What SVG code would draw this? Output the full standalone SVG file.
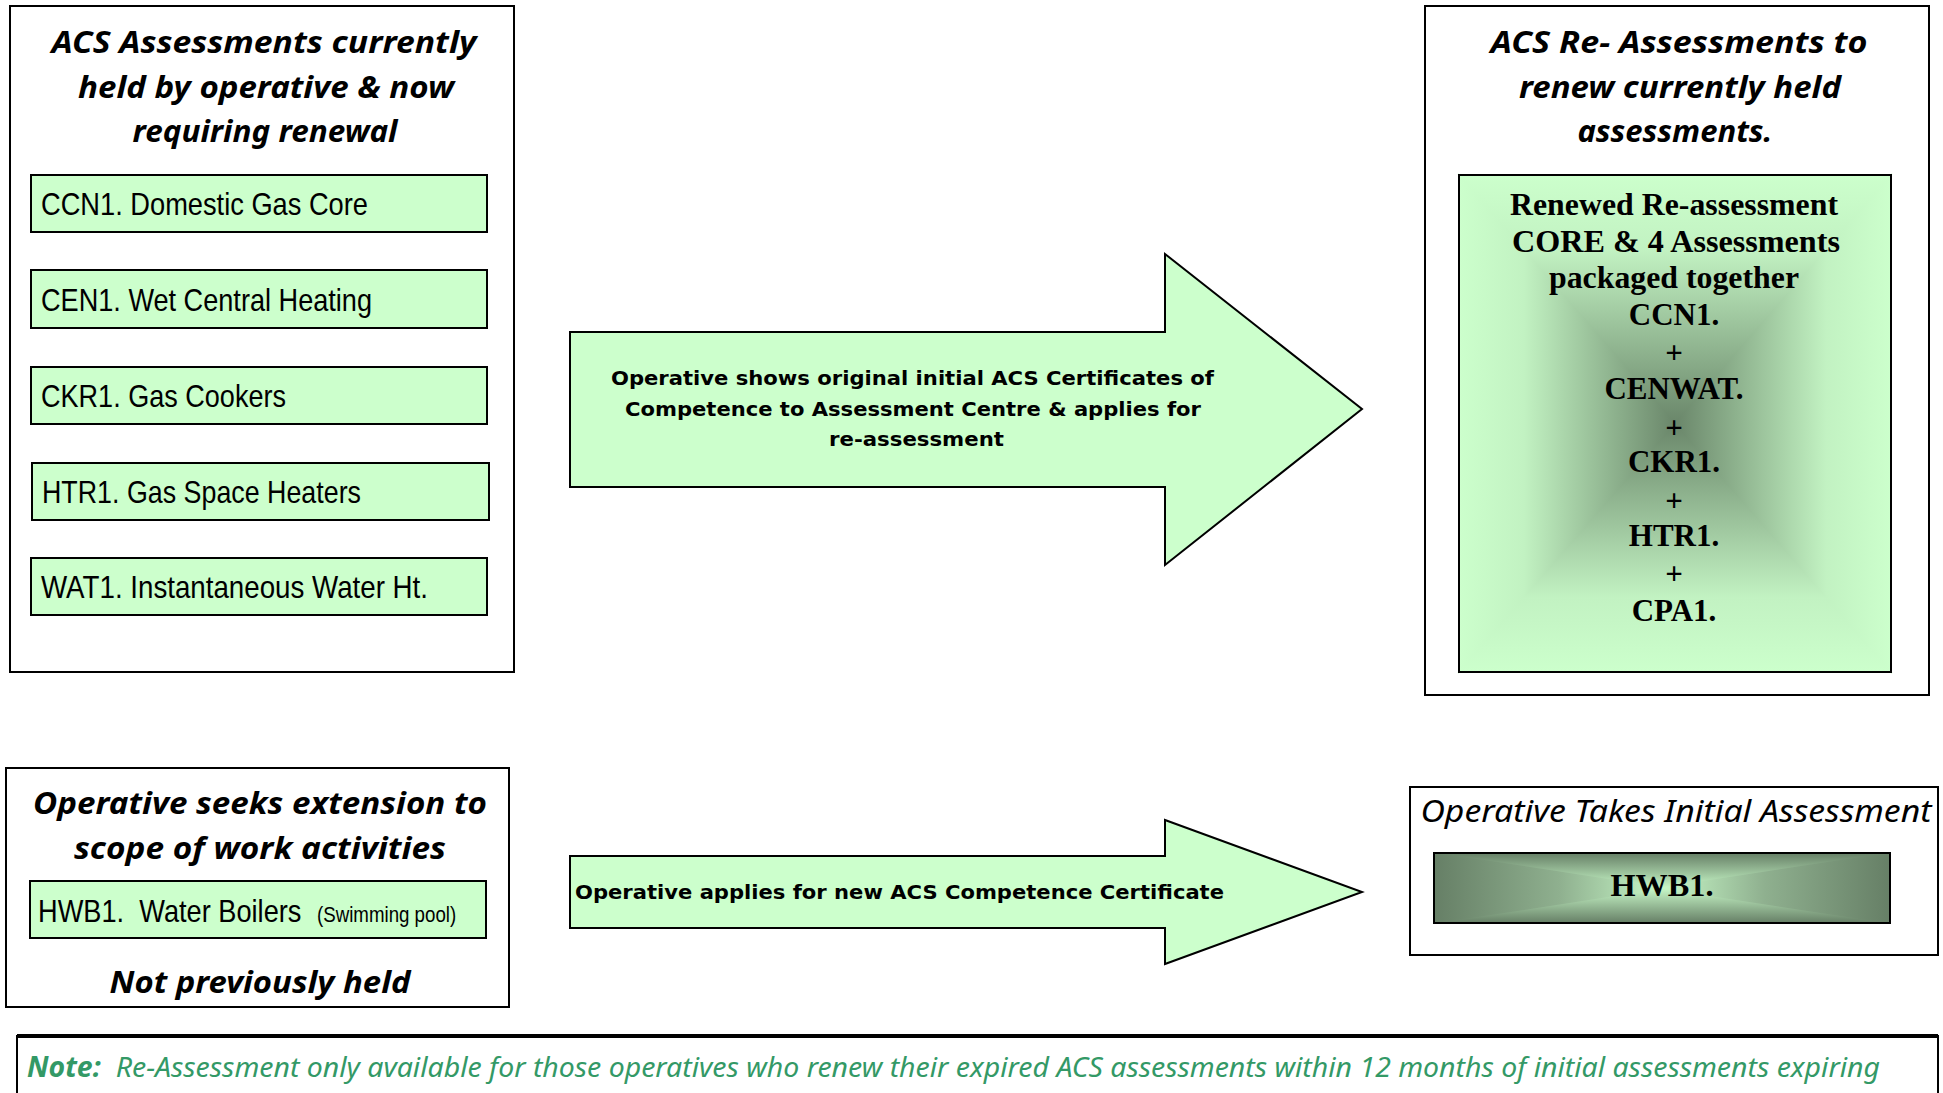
<svg xmlns="http://www.w3.org/2000/svg" width="1943" height="1093" viewBox="0 0 1943 1093">
<defs>
<style>
.frame{fill:#ffffff;stroke:#000;stroke-width:2}
.item{fill:#ccffcc;stroke:#000;stroke-width:2}
.arrow{fill:#ccffcc;stroke:#000;stroke-width:2}
.title{font-family:"Noto Sans","DejaVu Sans",sans-serif;font-style:italic;font-weight:bold;font-size:30px;fill:#000;text-anchor:middle}
.itxt{font-family:"Liberation Sans",Arial,sans-serif;font-size:32px;fill:#000}
.atxt{font-family:"DejaVu Sans","Liberation Sans",sans-serif;font-weight:bold;font-size:19px;fill:#000}
.ptxt{font-family:"Liberation Serif","Times New Roman",serif;font-weight:bold;font-size:31px;fill:#000;text-anchor:middle}
.note{font-family:"Noto Sans","DejaVu Sans",sans-serif;font-style:italic;font-size:28px;fill:#339966}
</style>
<linearGradient id="gT" gradientUnits="userSpaceOnUse" x1="0" y1="175" x2="0" y2="423.5"><stop offset="0" stop-color="#ccffcc"/><stop offset="0.3" stop-color="#c2f2c2"/><stop offset="1" stop-color="#6a866a"/></linearGradient>
<linearGradient id="gB" gradientUnits="userSpaceOnUse" x1="0" y1="672" x2="0" y2="423.5"><stop offset="0" stop-color="#ccffcc"/><stop offset="0.3" stop-color="#c2f2c2"/><stop offset="1" stop-color="#6a866a"/></linearGradient>
<linearGradient id="gL" gradientUnits="userSpaceOnUse" x1="1459" y1="0" x2="1675" y2="0"><stop offset="0" stop-color="#ccffcc"/><stop offset="0.3" stop-color="#c2f2c2"/><stop offset="1" stop-color="#6a866a"/></linearGradient>
<linearGradient id="gR" gradientUnits="userSpaceOnUse" x1="1891" y1="0" x2="1675" y2="0"><stop offset="0" stop-color="#ccffcc"/><stop offset="0.3" stop-color="#c2f2c2"/><stop offset="1" stop-color="#6a866a"/></linearGradient>
<linearGradient id="hT" gradientUnits="userSpaceOnUse" x1="0" y1="853" x2="0" y2="888"><stop offset="0" stop-color="#667f66"/><stop offset="1" stop-color="#c8f8c8"/></linearGradient>
<linearGradient id="hB" gradientUnits="userSpaceOnUse" x1="0" y1="923" x2="0" y2="888"><stop offset="0" stop-color="#667f66"/><stop offset="1" stop-color="#c8f8c8"/></linearGradient>
<linearGradient id="hL" gradientUnits="userSpaceOnUse" x1="1434" y1="0" x2="1662" y2="0"><stop offset="0" stop-color="#667f66"/><stop offset="0.55" stop-color="#8fb08f"/><stop offset="1" stop-color="#c8f8c8"/></linearGradient>
<linearGradient id="hR" gradientUnits="userSpaceOnUse" x1="1890" y1="0" x2="1662" y2="0"><stop offset="0" stop-color="#667f66"/><stop offset="0.55" stop-color="#8fb08f"/><stop offset="1" stop-color="#c8f8c8"/></linearGradient>
</defs>

<g id="current-assessments">
<rect class="frame" x="10" y="6" width="504" height="666"/>
<text class="title" x="264" y="53" textLength="425" lengthAdjust="spacingAndGlyphs">ACS Assessments currently</text>
<text class="title" x="266" y="98" textLength="376" lengthAdjust="spacingAndGlyphs">held by operative &amp; now</text>
<text class="title" x="265" y="142" textLength="265" lengthAdjust="spacingAndGlyphs">requiring renewal</text>
<g id="ccn1"><rect class="item" x="31" y="175" width="456" height="57"/><text class="itxt" x="41" y="215" textLength="327" lengthAdjust="spacingAndGlyphs">CCN1. Domestic Gas Core</text></g>
<g id="cen1"><rect class="item" x="31" y="270" width="456" height="58"/><text class="itxt" x="41" y="311" textLength="331" lengthAdjust="spacingAndGlyphs">CEN1. Wet Central Heating</text></g>
<g id="ckr1"><rect class="item" x="31" y="367" width="456" height="57"/><text class="itxt" x="41" y="407" textLength="245" lengthAdjust="spacingAndGlyphs">CKR1. Gas Cookers</text></g>
<g id="htr1"><rect class="item" x="32" y="463" width="457" height="57"/><text class="itxt" x="42" y="503" textLength="319" lengthAdjust="spacingAndGlyphs">HTR1. Gas Space Heaters</text></g>
<g id="wat1"><rect class="item" x="31" y="558" width="456" height="57"/><text class="itxt" x="41" y="598" textLength="387" lengthAdjust="spacingAndGlyphs">WAT1. Instantaneous Water Ht.</text></g>
</g>

<g id="reassessments">
<rect class="frame" x="1425" y="6" width="504" height="689"/>
<text class="title" x="1679" y="53" textLength="377" lengthAdjust="spacingAndGlyphs">ACS Re- Assessments to</text>
<text class="title" x="1680" y="98" textLength="322" lengthAdjust="spacingAndGlyphs">renew currently held</text>
<text class="title" x="1675" y="142" textLength="195" lengthAdjust="spacingAndGlyphs">assessments.</text>
<g id="package">
<polygon points="1459,175 1891,175 1675,423.5" fill="url(#gT)" stroke="url(#gT)" stroke-width="1.5"/>
<polygon points="1459,672 1891,672 1675,423.5" fill="url(#gB)" stroke="url(#gB)" stroke-width="1.5"/>
<polygon points="1459,175 1459,672 1675,423.5" fill="url(#gL)" stroke="url(#gL)" stroke-width="1.5"/>
<polygon points="1891,175 1891,672 1675,423.5" fill="url(#gR)" stroke="url(#gR)" stroke-width="1.5"/>
<rect x="1459" y="175" width="432" height="497" fill="none" stroke="#000" stroke-width="2"/>
<text class="ptxt" x="1674" y="215" textLength="328" lengthAdjust="spacingAndGlyphs">Renewed Re-assessment</text>
<text class="ptxt" x="1676" y="252" textLength="328" lengthAdjust="spacingAndGlyphs">CORE &amp; 4 Assessments</text>
<text class="ptxt" x="1674" y="288" textLength="250" lengthAdjust="spacingAndGlyphs">packaged together</text>
<text class="ptxt" x="1674" y="325">CCN1.</text>
<text class="ptxt" x="1674" y="363">+</text>
<text class="ptxt" x="1674" y="399">CENWAT.</text>
<text class="ptxt" x="1674" y="438">+</text>
<text class="ptxt" x="1674" y="472">CKR1.</text>
<text class="ptxt" x="1674" y="511">+</text>
<text class="ptxt" x="1674" y="546">HTR1.</text>
<text class="ptxt" x="1674" y="584">+</text>
<text class="ptxt" x="1674" y="621">CPA1.</text>
</g>
</g>

<g id="extension">
<rect class="frame" x="6" y="768" width="503" height="239"/>
<text class="title" x="260" y="814" textLength="454" lengthAdjust="spacingAndGlyphs">Operative seeks extension to</text>
<text class="title" x="260" y="859" textLength="372" lengthAdjust="spacingAndGlyphs">scope of work activities</text>
<g id="hwb1-item"><rect class="item" x="30" y="881" width="456" height="57"/>
<text class="itxt" transform="translate(38,922) scale(0.85,1)" x="0" y="0" xml:space="preserve">HWB1.  Water Boilers</text>
<text class="itxt" transform="translate(317,922) scale(0.85,1)" x="0" y="0" style="font-size:22px">(Swimming pool)</text></g>
<text class="title" x="260" y="993" textLength="301" lengthAdjust="spacingAndGlyphs">Not previously held</text>
</g>

<g id="initial">
<rect class="frame" x="1410" y="787" width="528" height="168"/>
<text class="title" x="1676" y="822" style="font-weight:normal" textLength="511" lengthAdjust="spacingAndGlyphs">Operative Takes Initial Assessment</text>
<g id="hwb1-result">
<polygon points="1434,853 1890,853 1662,888" fill="url(#hT)" stroke="url(#hT)" stroke-width="1.5"/>
<polygon points="1434,923 1890,923 1662,888" fill="url(#hB)" stroke="url(#hB)" stroke-width="1.5"/>
<polygon points="1434,853 1434,923 1662,888" fill="url(#hL)" stroke="url(#hL)" stroke-width="1.5"/>
<polygon points="1890,853 1890,923 1662,888" fill="url(#hR)" stroke="url(#hR)" stroke-width="1.5"/>
<rect x="1434" y="853" width="456" height="70" fill="none" stroke="#000" stroke-width="2"/>
<text class="ptxt" x="1662" y="896" textLength="103" lengthAdjust="spacingAndGlyphs">HWB1.</text>
</g>
</g>

<g id="connectors">
<g id="arrow-reassess">
<polygon class="arrow" points="570,332 1165,332 1165,254 1362,409 1165,565 1165,487 570,487"/>
<text class="atxt" x="611" y="385" textLength="603" lengthAdjust="spacingAndGlyphs">Operative shows original initial ACS Certificates of</text>
<text class="atxt" x="625" y="416" textLength="576" lengthAdjust="spacingAndGlyphs">Competence to Assessment Centre &amp; applies for</text>
<text class="atxt" x="829" y="446" textLength="175" lengthAdjust="spacingAndGlyphs">re-assessment</text>
</g>
<g id="arrow-new">
<polygon class="arrow" points="570,856 1165,856 1165,820 1362,892 1165,964 1165,928 570,928"/>
<text class="atxt" x="575" y="899" textLength="649" lengthAdjust="spacingAndGlyphs">Operative applies for new ACS Competence Certificate</text>
</g>
</g>

<g id="note">
<rect x="17" y="1036" width="1921" height="70" fill="#fff" stroke="#000" stroke-width="2"/>
<line x1="17" y1="1036" x2="1938" y2="1036" stroke="#000" stroke-width="4"/>
<text class="note" x="27" y="1077" textLength="1853" lengthAdjust="spacingAndGlyphs" xml:space="preserve"><tspan font-weight="bold">Note:</tspan>  Re-Assessment only available for those operatives who renew their expired ACS assessments within 12 months of initial assessments expiring</text>
</g>
</svg>
